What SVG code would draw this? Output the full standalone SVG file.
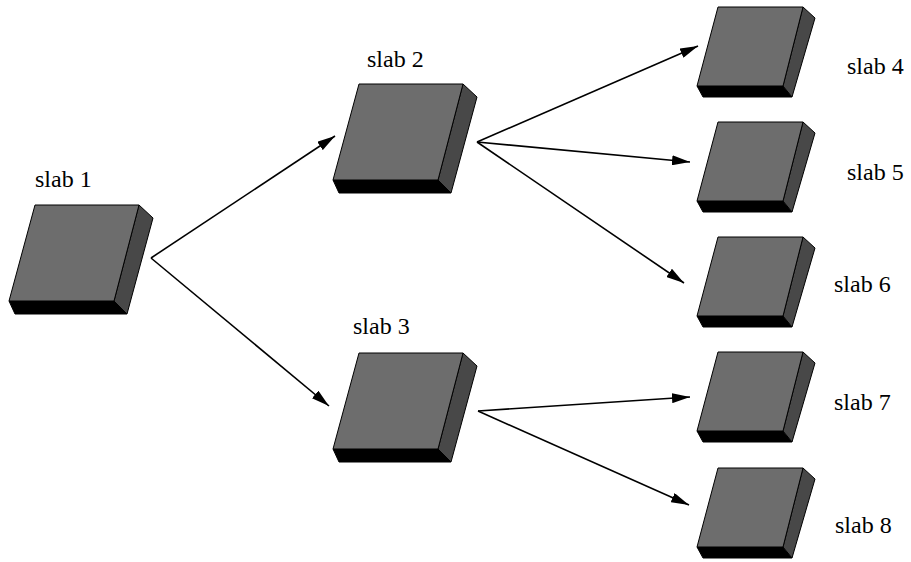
<svg xmlns="http://www.w3.org/2000/svg" xmlns:xlink="http://www.w3.org/1999/xlink" width="911" height="562" viewBox="0 0 911 562">
<style>
.top{fill:#6d6d6d;stroke:#000;stroke-width:1;stroke-linejoin:round}
.side{fill:#484848;stroke:#000;stroke-width:1;stroke-linejoin:round}
.bot{fill:#000;stroke:#000;stroke-width:1;stroke-linejoin:round}
.lbl{font-family:'Liberation Serif','Times New Roman',serif;font-size:24px;fill:#000}
.conn{stroke:#000;stroke-width:1.6;fill:none;marker-end:url(#ah)}
</style>
<defs>
<marker id="ah" markerUnits="userSpaceOnUse" markerWidth="20" markerHeight="10" refX="18" refY="5" orient="auto">
<path d="M0,0 L18,5 L0,10 Z" fill="#000"/>
</marker>
<g id="big">
<polygon class="bot" points="-26,96 79,96 92,109 -20,109"/>
<polygon class="side" points="104,0 118,13 92,109 79,96"/>
<polygon class="top" points="0,0 104,0 79,96 -26,96"/>
</g>
<g id="small">
<polygon class="bot" points="-21,79 65,79 74,90 -15,90"/>
<polygon class="side" points="85,0 97,11 74,90 65,79"/>
<polygon class="top" points="0,0 85,0 65,79 -21,79"/>
</g>
</defs>
<rect width="911" height="562" fill="#fff"/>
<g id="connectors">
<line class="conn" x1="151" y1="258" x2="335" y2="136"/>
<line class="conn" x1="151" y1="258" x2="329" y2="406"/>
<line class="conn" x1="477" y1="142" x2="698" y2="46"/>
<line class="conn" x1="477" y1="142" x2="690" y2="162"/>
<line class="conn" x1="477" y1="142" x2="684" y2="283"/>
<line class="conn" x1="478" y1="411" x2="690" y2="397"/>
<line class="conn" x1="478" y1="411" x2="689" y2="505"/>
</g>
<g id="slab1"><use xlink:href="#big" transform="translate(35,205)"/><text class="lbl" x="35" y="187">slab 1</text></g>
<g id="slab2"><use xlink:href="#big" transform="translate(359,84)"/><text class="lbl" x="367" y="67">slab 2</text></g>
<g id="slab3"><use xlink:href="#big" transform="translate(359,353)"/><text class="lbl" x="353" y="334">slab 3</text></g>
<g id="slab4"><use xlink:href="#small" transform="translate(718,7)"/><text class="lbl" x="847" y="74">slab 4</text></g>
<g id="slab5"><use xlink:href="#small" transform="translate(718,122)"/><text class="lbl" x="847" y="180">slab 5</text></g>
<g id="slab6"><use xlink:href="#small" transform="translate(718,237)"/><text class="lbl" x="834" y="292">slab 6</text></g>
<g id="slab7"><use xlink:href="#small" transform="translate(718,352)"/><text class="lbl" x="834" y="410">slab 7</text></g>
<g id="slab8"><use xlink:href="#small" transform="translate(718,468)"/><text class="lbl" x="835" y="533">slab 8</text></g>
</svg>
